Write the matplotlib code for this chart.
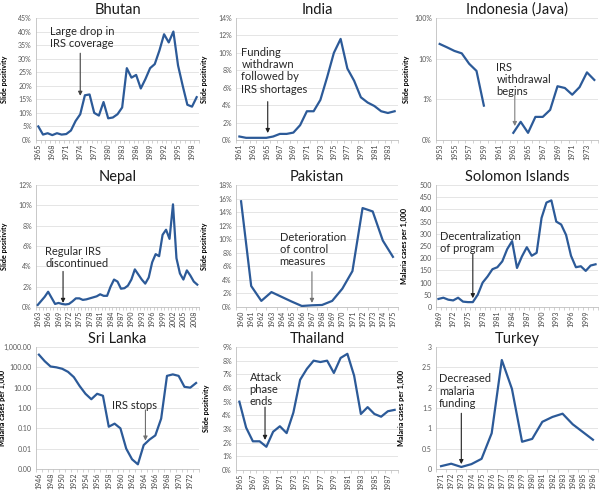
import numpy as np
import matplotlib
matplotlib.use('Agg')
import matplotlib.pyplot as plt
from matplotlib.ticker import FuncFormatter, NullLocator

plt.rcParams['font.family'] = ['Lato', 'DejaVu Sans']

# values
bhutan_years = list(range(1965, 2000))
bhutan_vals = [5, 2, 2.5, 1.8, 2.5, 2, 2.2, 3.5, 7, 9.5, 16.5, 16.8, 10, 9, 14,
               8, 8.3, 9.5, 12, 26.5, 23, 24, 19, 22.5, 26.5, 28, 33, 39, 36, 40,
               27.5, 20, 13, 12.3, 15.8]

india_years = list(range(1961, 1985))
india_vals = [0.4, 0.25, 0.25, 0.25, 0.25, 0.4, 0.7, 0.7, 0.85, 1.7, 3.3, 3.3,
              4.6, 7.2, 10, 11.6, 8.2, 6.8, 4.9, 4.3, 3.9, 3.3, 3.1, 3.3]

java_years = list(range(1953, 1975))
java_vals = [23, 19, 15.5, 13.5, 7.5, 5, 0.7, np.nan, np.nan, np.nan, 0.15, 0.28,
             0.15, 0.37, 0.37, 0.55, 2.1, 1.9, 1.3, 2.0, 4.6, 3.0]

nepal_years = list(range(1963, 2010))
nepal_vals = [0.2, 0.6, 1.0, 1.5, 0.9, 0.3, 0.4, 0.3, 0.25, 0.3, 0.55, 0.85,
              0.85, 0.7, 0.75, 0.85, 0.95, 1.05, 1.25, 1.1, 1.1, 2.0, 2.7, 2.5,
              1.8, 1.85, 2.1, 2.7, 3.7, 3.2, 2.7, 2.3, 2.9, 4.4, 5.2, 5.0, 7.1,
              7.6, 6.7, 10.1, 4.8, 3.3, 2.7, 3.6, 3.1, 2.5, 2.2]

pakistan_years = list(range(1960, 1976))
pakistan_vals = [15.6, 3.1, 0.9, 2.2, 1.5, 0.8, 0.15, 0.25, 0.3, 0.9, 2.7, 5.3,
                 14.6, 14.1, 9.8, 7.4]

solomon_years = list(range(1969, 2002))
solomon_vals = [33, 38, 30, 27, 38, 22, 20, 20, 50, 100, 125, 155, 163, 187, 237,
                270, 160, 207, 245, 210, 222, 365, 428, 437, 350, 338, 295, 210,
                163, 167, 148, 170, 175]

srilanka_years = list(range(1946, 1974))
srilanka_vals = [420, 200, 110, 100, 85, 60, 33, 12, 5, 2.7, 5, 4, 0.12, 0.17,
                 0.1, 0.01, 0.003, 0.0017, 0.015, 0.028, 0.045, 0.3, 38, 45, 38,
                 11, 10, 17]

thailand_years = list(range(1965, 1989))
thailand_vals = [5.0, 3.1, 2.1, 2.1, 1.7, 2.8, 3.2, 2.7, 4.2, 6.6, 7.4, 8.0, 7.9,
                 8.0, 7.1, 8.2, 8.5, 6.9, 4.1, 4.6, 4.1, 3.9, 4.3, 4.4]

turkey_years = list(range(1971, 1987))
turkey_vals = [0.07, 0.13, 0.05, 0.12, 0.25, 0.88, 2.68, 1.97, 0.67, 0.74, 1.16,
               1.28, 1.36, 1.1, 0.91, 0.72]

pct = lambda v, pos: '{:.0f}%'.format(v)
dec2 = lambda v, pos: '{:,.2f}'.format(v)
plain = lambda v, pos: '{:g}'.format(v)

SP = 'Slide positivity'
MC = 'Malaria cases per 1,000'

panels = [
    dict(title='Bhutan', years=bhutan_years, vals=bhutan_vals, box=(36, 199, 18, 140),
         ylim=(0, 45), yticks=np.arange(0, 46, 5), fmt=pct, log=False, step=3, ylabel=SP, lx=8,
         note='Large drop in\nIRS coverage', txt=(1967.5, 42), tip=(1974, 16.3), start=(1974, 32), ac='#404040'),
    dict(title='India', years=india_years, vals=india_vals, box=(236, 398, 18, 140),
         ylim=(0, 14), yticks=np.arange(0, 15, 2), fmt=pct, log=False, step=2, ylabel=SP, lx=208,
         note='Funding\nwithdrawn\nfollowed by\nIRS shortages', txt=(1961.3, 10.7), tip=(1965.2, 0.8), start=(1965.2, 4.4), ac='#202020'),
    dict(title='Indonesia (Java)', years=java_years, vals=java_vals, box=(436, 598, 18, 140),
         ylim=(0.1, 100), yticks=[0.1, 1, 10, 100], fmt=pct, log=True, step=2, ylabel=SP, lx=410,
         note='IRS\nwithdrawal\nbegins', txt=(1960.7, 8.5), tip=(1963.2, 0.22), start=(1963.2, 1.3), ac='#808080'),
    dict(title='Nepal', years=nepal_years, vals=nepal_vals, box=(36, 199, 185, 307),
         ylim=(0, 12), yticks=np.arange(0, 13, 2), fmt=pct, log=False, step=3, ylabel=SP, lx=8,
         note='Regular IRS\ndiscontinued', txt=(1965.2, 6.0), tip=(1970.3, 0.4), start=(1970.3, 3.5), ac='#202020'),
    dict(title='Pakistan', years=pakistan_years, vals=pakistan_vals, box=(236, 398, 185, 307),
         ylim=(0, 18), yticks=np.arange(0, 19, 2), fmt=pct, log=False, step=1, ylabel=SP, lx=208,
         note='Deterioration\nof control\nmeasures', txt=(1963.8, 11.1), tip=(1967.0, 0.6), start=(1967.0, 5.2), ac='#707070'),
    dict(title='Solomon Islands', years=solomon_years, vals=solomon_vals, box=(436, 598, 185, 307),
         ylim=(0, 500), yticks=np.arange(0, 501, 50), fmt=plain, log=False, step=3, ylabel=MC, lx=408,
         note='Decentralization\nof program', txt=(1969.3, 312), tip=(1976.0, 36), start=(1976.0, 216), ac='#202020'),
    dict(title='Sri Lanka', years=srilanka_years, vals=srilanka_vals, box=(36, 199, 347, 469),
         ylim=(0.001, 1000), yticks=[0.001, 0.01, 0.1, 1, 10, 100, 1000], fmt=dec2, log=True, step=2, ylabel=MC, lx=6.5,
         note='IRS stops', txt=(1958.6, 2.6), tip=(1964.3, 0.025), start=(1964.3, 0.8), ac='#707070'),
    dict(title='Thailand', years=thailand_years, vals=thailand_vals, box=(236, 398, 347, 470),
         ylim=(0, 9), yticks=np.arange(0, 10, 1), fmt=pct, log=False, step=2, ylabel=SP, lx=210,
         note='Attack\nphase\nends', txt=(1966.5, 7.2), tip=(1968.8, 2.2), start=(1968.8, 4.6), ac='#202020'),
    dict(title='Turkey', years=turkey_years, vals=turkey_vals, box=(436, 598, 347, 469),
         ylim=(0, 3), yticks=np.arange(0, 3.01, 0.5), fmt=plain, log=False, step=1, ylabel=MC, lx=405,
         note='Decreased\nmalaria\nfunding', txt=(1970.8, 2.35), tip=(1973.0, 0.12), start=(1973.0, 1.37), ac='#202020'),
]

W, H = 600, 490
fig = plt.figure(figsize=(W / 100, H / 100), dpi=100)
line_col = '#2c5a98'

for p in panels:
    x0, x1, ytop, ybot = p['box']
    ax = fig.add_axes([x0 / W, 1 - ybot / H, (x1 - x0) / W, (ybot - ytop) / H])
    yrs = np.array(p['years'])
    vals = np.array(p['vals'], dtype=float)
    ax.plot(yrs, vals, color=line_col, lw=1.6, solid_joinstyle='round', zorder=3)
    if p['log']:
        ax.set_yscale('log')
    ax.set_ylim(p['ylim'])
    ax.set_yticks(p['yticks'])
    ax.yaxis.set_minor_locator(NullLocator())
    ax.yaxis.set_major_formatter(FuncFormatter(p['fmt']))
    ax.set_xlim(yrs[0] - 0.5, yrs[-1] + 0.5)
    ax.set_xticks(range(yrs[0], yrs[-1] + 1, p['step']))
    ax.set_xticks(np.arange(yrs[0] - 0.5, yrs[-1] + 1), minor=True)
    ax.tick_params(axis='x', which='major', length=0, labelrotation=90, labelsize=5,
                   labelcolor='#404040', pad=2.5)
    ax.tick_params(axis='x', which='minor', length=2.5, width=0.5, color='#bfbfbf')
    ax.tick_params(axis='y', length=0, labelsize=5, labelcolor='#595959', pad=3)
    ax.grid(axis='y', color='#e0e0e0', lw=0.6)
    ax.set_axisbelow(True)
    for s in ['top', 'right']:
        ax.spines[s].set_visible(False)
    for s in ['left', 'bottom']:
        ax.spines[s].set_color('#bfbfbf')
        ax.spines[s].set_linewidth(0.6)
    ax.set_title(p['title'], fontsize=10.5, color='#1a1a1a', pad=3)
    ax.set_ylabel(p['ylabel'], fontsize=5.2, fontweight='bold')
    ax.yaxis.set_label_coords(-(x0 - p['lx']) / (x1 - x0), 0.5)
    ax.text(p['txt'][0], p['txt'][1], p['note'], fontsize=8, color='#262626',
            ha='left', va='top', linespacing=1.15)
    ax.annotate('', xy=p['tip'], xytext=p['start'],
                arrowprops=dict(arrowstyle='-|>', color=p['ac'], lw=0.8, mutation_scale=6,
                                shrinkA=0, shrinkB=0))

fig.savefig('out.png', dpi=100)
